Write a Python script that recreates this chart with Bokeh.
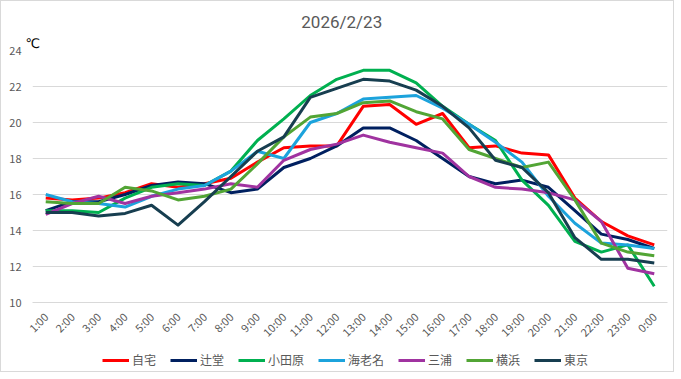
from bokeh.plotting import figure
from bokeh.models import (FactorRange, Range1d, FixedTicker, Title, Legend, LegendItem, Label)
from bokeh.layouts import column
from bokeh.embed import file_html
from bokeh.resources import INLINE
import math

hours = ["1:00", "2:00", "3:00", "4:00", "5:00", "6:00", "7:00", "8:00", "9:00", "10:00",
         "11:00", "12:00", "13:00", "14:00", "15:00", "16:00", "17:00", "18:00", "19:00",
         "20:00", "21:00", "22:00", "23:00", "0:00"]

jitaku = [15.8, 15.7, 15.8, 16.1, 16.6, 16.4, 16.6, 16.9, 17.8, 18.6, 18.7, 18.7,
          20.9, 21.0, 19.9, 20.5, 18.6, 18.7, 18.3, 18.2, 15.8, 14.5, 13.7, 13.2]
tsujido = [15.1, 15.6, 15.6, 16.0, 16.5, 16.7, 16.6, 16.1, 16.3, 17.5, 18.0, 18.7,
           19.7, 19.7, 19.0, 18.0, 17.0, 16.6, 16.8, 16.4, 15.1, 13.8, 13.5, 13.0]
odawara = [15.1, 15.1, 15.0, 15.8, 16.4, 16.6, 16.5, 17.3, 19.0, 20.2, 21.5, 22.4,
           22.9, 22.9, 22.2, 20.9, 19.9, 19.0, 16.8, 15.4, 13.4, 12.8, 13.2, 10.9]
ebina = [16.0, 15.6, 15.5, 15.3, 15.9, 16.3, 16.5, 17.3, 18.4, 18.0, 20.0, 20.5,
         21.3, 21.4, 21.5, 20.8, 19.9, 18.9, 17.8, 15.9, 14.4, 13.3, 13.2, 13.0]
miura = [14.9, 15.5, 15.9, 15.5, 15.9, 16.1, 16.3, 16.6, 16.4, 17.9, 18.5, 18.8,
         19.3, 18.9, 18.6, 18.3, 17.0, 16.4, 16.3, 16.1, 15.7, 14.5, 11.9, 11.6]
yokohama = [15.6, 15.5, 15.5, 16.4, 16.2, 15.7, 15.9, 16.3, 17.7, 19.2, 20.3, 20.5,
            21.1, 21.2, 20.6, 20.2, 18.5, 18.0, 17.5, 17.8, 15.7, 13.3, 12.8, 12.6]
tokyo = [15.0, 15.0, 14.8, 14.95, 15.4, 14.3, 15.6, 17.0, 18.4, 19.2, 21.4, 21.9,
         22.4, 22.3, 21.8, 20.9, 19.7, 17.9, 17.5, 16.1, 13.6, 12.4, 12.4, 12.2]

series_names = ["自宅", "辻堂", "小田原", "海老名", "三浦", "横浜", "東京"]
series_values = [jitaku, tsujido, odawara, ebina, miura, yokohama, tokyo]
series_colors = ["#FF0000", "#002060", "#00B050", "#1CA3DC", "#A033A0", "#52A535", "#173E50"]

y_ticks = [10, 12, 14, 16, 18, 20, 22, 24]
title_text = "2026/2/23"
unit_text = "℃"

FONT = "Noto Sans CJK JP"
GRAY = "#595959"
W = 672

# title strip (its frame lines up with the chart frame in the column)
tf = figure(width=W, height=32, x_range=Range1d(0, 1), y_range=Range1d(0, 1),
            x_axis_type=None, y_axis_type=None,
            output_backend="svg", toolbar_location=None, title=None, min_border=0)
tf.grid.visible = False
tf.outline_line_color = None
tf.add_layout(Label(x=0.487, y=0.344, text=title_text, text_align="center", text_baseline="middle",
                    text_font="Roboto", text_font_size="17px", text_color=GRAY))

# main chart
p = figure(width=W, height=316, x_range=FactorRange(*hours), y_range=Range1d(10, 24),
           output_backend="svg", toolbar_location=None, title=None,
           min_border_left=31, min_border_right=6, min_border_top=16, min_border_bottom=47)
p.outline_line_color = None

p.xgrid.grid_line_color = None
p.ygrid.grid_line_color = "#D9D9D9"
p.ygrid.grid_line_width = 1

p.yaxis.ticker = FixedTicker(ticks=y_ticks)
p.yaxis.axis_line_color = None
p.yaxis.major_tick_line_color = None
p.yaxis.minor_tick_line_color = None
p.yaxis.major_tick_out = 0
p.yaxis.major_tick_in = 0
p.yaxis.major_label_standoff = 11
p.yaxis.major_label_text_font = FONT
p.yaxis.major_label_text_font_size = "11px"
p.yaxis.major_label_text_color = GRAY

p.xaxis.axis_line_color = "#D9D9D9"
p.xaxis.major_tick_line_color = None
p.xaxis.minor_tick_line_color = None
p.xaxis.major_tick_out = 0
p.xaxis.major_tick_in = 0
p.xaxis.major_label_orientation = math.pi / 4
p.xaxis.major_label_standoff = 12
p.xaxis.major_label_text_font = FONT
p.xaxis.major_label_text_font_size = "11px"
p.xaxis.major_label_text_color = GRAY

for name, vals, col in zip(series_names, series_values, series_colors):
    p.line(x=hours, y=vals, line_color=col, line_width=3, line_join="round")

p.add_layout(Title(text=unit_text, align="left", offset=-7, standoff=0,
                   text_font="DejaVu Sans", text_font_size="13px", text_font_style="normal",
                   text_color="#000000"), "above")

# legend strip below the chart
lf = figure(width=W, height=22, x_range=Range1d(0, 1), y_range=Range1d(0, 1),
            x_axis_type=None, y_axis_type=None,
            output_backend="svg", toolbar_location=None, title=None, min_border=0)
lf.grid.visible = False
lf.outline_line_color = None

items = []
for name, col in zip(series_names, series_colors):
    r = lf.line(x=[float("nan")], y=[float("nan")], line_color=col, line_width=3)
    items.append(LegendItem(label=name, renderers=[r]))

legend = Legend(items=items, orientation="horizontal", location=(70, 3),
                glyph_width=27, glyph_height=12, label_height=12, label_standoff=3,
                spacing=14, padding=0, margin=0,
                border_line_color=None, background_fill_alpha=0,
                label_text_font=FONT, label_text_font_size="12px", label_text_color=GRAY)
lf.add_layout(legend, "center")

layout = column(tf, p, lf, spacing=0, styles={"border": "1px solid #D9D9D9"})
open("out.html", "w").write(file_html(layout, INLINE))
